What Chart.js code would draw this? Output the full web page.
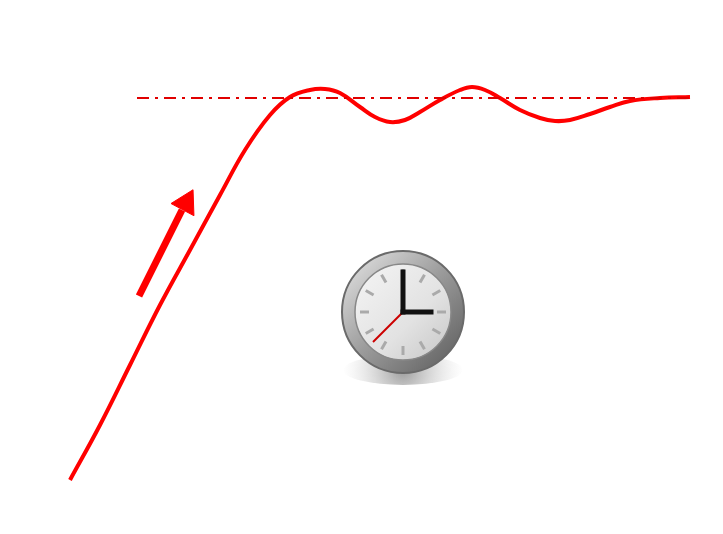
<!DOCTYPE html>
<html><head><meta charset="utf-8">
<script src="https://cdn.jsdelivr.net/npm/chart.js@4"></script>
<style>html,body{margin:0;padding:0;background:#fff;overflow:hidden}</style>
</head><body>
<canvas id="c" width="723" height="534"></canvas>
<script>
// values in picture units (x right, y up from bottom)
const curveX = [70,100,130,160,190,220,245,270,290,310,325,340,360,375,390,405,420,440,460,472,485,500,520,540,555,570,590,610,630,660,690];
const curveY = [54,109,169,229,284,339,384,419,437,444,445,441,427,417,412,414,422,434,444,447,444,436,424,416,413,414,420,427,433,436,437];
const targetX = [137,690];
const targetY = [436,436];
const arrowX = [139,182];
const arrowY = [238,324];
const arrowHead = [{x:186,y:331}];

const clockPlugin = {
  id:'clock',
  afterDraw(chart){
    const ctx = chart.ctx, cx=403, cy=312;
    ctx.save();
    let g = ctx.createRadialGradient(cx,370,2,cx,370,60);
    g.addColorStop(0,'rgba(120,120,120,0.7)'); g.addColorStop(1,'rgba(200,200,200,0)');
    ctx.fillStyle=g; ctx.beginPath(); ctx.ellipse(cx,370,60,15,0,0,Math.PI*2); ctx.fill();
    g = ctx.createLinearGradient(cx-60,cy-60,cx+60,cy+60);
    g.addColorStop(0,'#e8e8e8'); g.addColorStop(0.5,'#9a9a9a'); g.addColorStop(1,'#5a5a5a');
    ctx.fillStyle=g; ctx.beginPath(); ctx.arc(cx,cy,61,0,Math.PI*2); ctx.fill();
    ctx.strokeStyle='#6a6a6a'; ctx.lineWidth=2; ctx.stroke();
    g = ctx.createLinearGradient(cx-45,cy-45,cx+45,cy+45);
    g.addColorStop(0,'#f4f4f4'); g.addColorStop(0.6,'#e2e2e2'); g.addColorStop(1,'#c8c8c8');
    ctx.fillStyle=g; ctx.beginPath(); ctx.arc(cx,cy,48,0,Math.PI*2); ctx.fill();
    ctx.strokeStyle='#888'; ctx.lineWidth=1.5; ctx.stroke();
    ctx.strokeStyle='#aaa'; ctx.lineWidth=3; ctx.lineCap='butt';
    for(let i=0;i<12;i++){
      const a=i*Math.PI/6;
      ctx.beginPath();
      ctx.moveTo(cx+Math.sin(a)*34,cy-Math.cos(a)*34);
      ctx.lineTo(cx+Math.sin(a)*43,cy-Math.cos(a)*43);
      ctx.stroke();
    }
    ctx.strokeStyle='#c00'; ctx.lineWidth=2;
    ctx.beginPath(); ctx.moveTo(cx,cy); ctx.lineTo(cx-30,cy+30); ctx.stroke();
    ctx.strokeStyle='#111'; ctx.lineWidth=5; ctx.lineCap='square';
    ctx.beginPath(); ctx.moveTo(cx,cy); ctx.lineTo(cx,cy-40); ctx.stroke();
    ctx.beginPath(); ctx.moveTo(cx,cy); ctx.lineTo(cx+28,cy); ctx.stroke();
    ctx.restore();
  }
};

const toPts=(xs,ys)=>xs.map((x,i)=>({x,y:ys[i]}));
new Chart(document.getElementById('c'),{
  type:'scatter',
  data:{datasets:[
    {data:toPts(targetX,targetY),showLine:true,borderColor:'#e00000',borderWidth:2,borderDash:[12,6,3,6],pointRadius:0},
    {data:toPts(curveX,curveY),showLine:true,borderColor:'#ff0000',borderWidth:4,tension:0.4,pointRadius:0},
    {data:toPts(arrowX,arrowY),showLine:true,borderColor:'#ff0000',borderWidth:7,pointRadius:0},
    {data:arrowHead,pointStyle:'triangle',pointRadius:15,rotation:28,backgroundColor:'#ff0000',borderColor:'#ff0000'}
  ]},
  options:{responsive:false,animation:false,
    layout:{padding:0,autoPadding:false},
    plugins:{legend:{display:false},tooltip:{enabled:false}},
    scales:{x:{type:'linear',min:0,max:723,display:false},y:{type:'linear',min:0,max:534,display:false}}
  },
  plugins:[clockPlugin]
});
</script>
</body></html>
